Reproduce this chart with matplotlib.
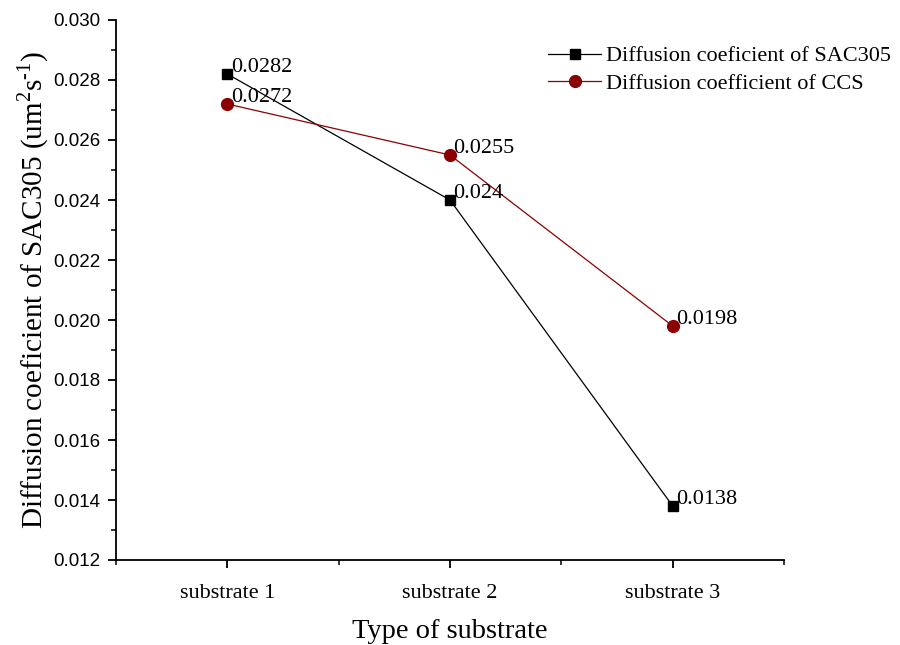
import matplotlib
matplotlib.use("Agg")
import matplotlib.pyplot as plt
from matplotlib.ticker import MultipleLocator, FixedLocator, FormatStrFormatter

categories = ["substrate 1", "substrate 2", "substrate 3"]
sac305 = [0.0282, 0.024, 0.0138]
ccs = [0.0272, 0.0255, 0.0198]
sac_labels = ["0.0282", "0.024", "0.0138"]
ccs_labels = ["0.0272", "0.0255", "0.0198"]

plt.rcParams['font.family'] = ['Liberation Serif', 'DejaVu Serif']
plt.rcParams['mathtext.fontset'] = 'custom'
plt.rcParams['mathtext.rm'] = 'Liberation Serif'

fig = plt.figure(figsize=(9, 6.45), dpi=100)
ax = fig.add_axes([116/900, 1-560/645, (784-116)/900, (560-20)/645])

x = [1, 2, 3]
red = '#8b0000'
l1, = ax.plot(x, sac305, color='black', lw=0.9, marker='s', markersize=7.5,
              label='Diffusion coeficient of SAC305')
l2, = ax.plot(x, ccs, color=red, lw=0.9, marker='o', markersize=8.5,
              label='Diffusion coefficient of CCS')

for xi, v, t in zip(x, sac305, sac_labels):
    ax.annotate(t, (xi, v), xytext=(2.5, -2), textcoords='offset points',
                ha='left', va='bottom', fontsize=16)
for xi, v, t in zip(x, ccs, ccs_labels):
    ax.annotate(t, (xi, v), xytext=(2.5, -2), textcoords='offset points',
                ha='left', va='bottom', fontsize=16)

ax.set_xlim(0.5, 3.5)
ax.set_ylim(0.012, 0.030)
ax.set_xticks(x)
ax.set_xticklabels(categories, fontsize=16)
ax.xaxis.set_minor_locator(FixedLocator([0.5, 1.5, 2.5, 3.5]))
ax.yaxis.set_major_locator(MultipleLocator(0.002))
ax.yaxis.set_minor_locator(MultipleLocator(0.001))
ax.yaxis.set_major_formatter(FormatStrFormatter('%.3f'))
for lab in ax.get_yticklabels():
    lab.set_fontfamily(['Liberation Sans', 'DejaVu Sans'])
    lab.set_fontsize(13.5)

for s in ['top', 'right']:
    ax.spines[s].set_visible(False)
for s in ['left', 'bottom']:
    ax.spines[s].set_linewidth(1.3)
ax.tick_params(which='major', direction='out', length=6, width=1.3, pad=5)
ax.tick_params(which='minor', direction='out', length=3.5, width=1.1)
ax.tick_params(axis='x', pad=11)

ax.set_xlabel('Type of substrate', fontsize=20.5, labelpad=12)
ax.set_ylabel('Diffusion coeficient of SAC305 (um$^{2}$s$^{\\text{-}1}$)', fontsize=21, labelpad=2)

fig.legend(handles=[l1, l2], loc='upper left', bbox_to_anchor=(539/900, 1-37/645),
           frameon=False, fontsize=16, handlelength=2.4, handletextpad=0.2,
           labelspacing=0.3, borderaxespad=0)

fig.savefig('out.png', dpi=100)
